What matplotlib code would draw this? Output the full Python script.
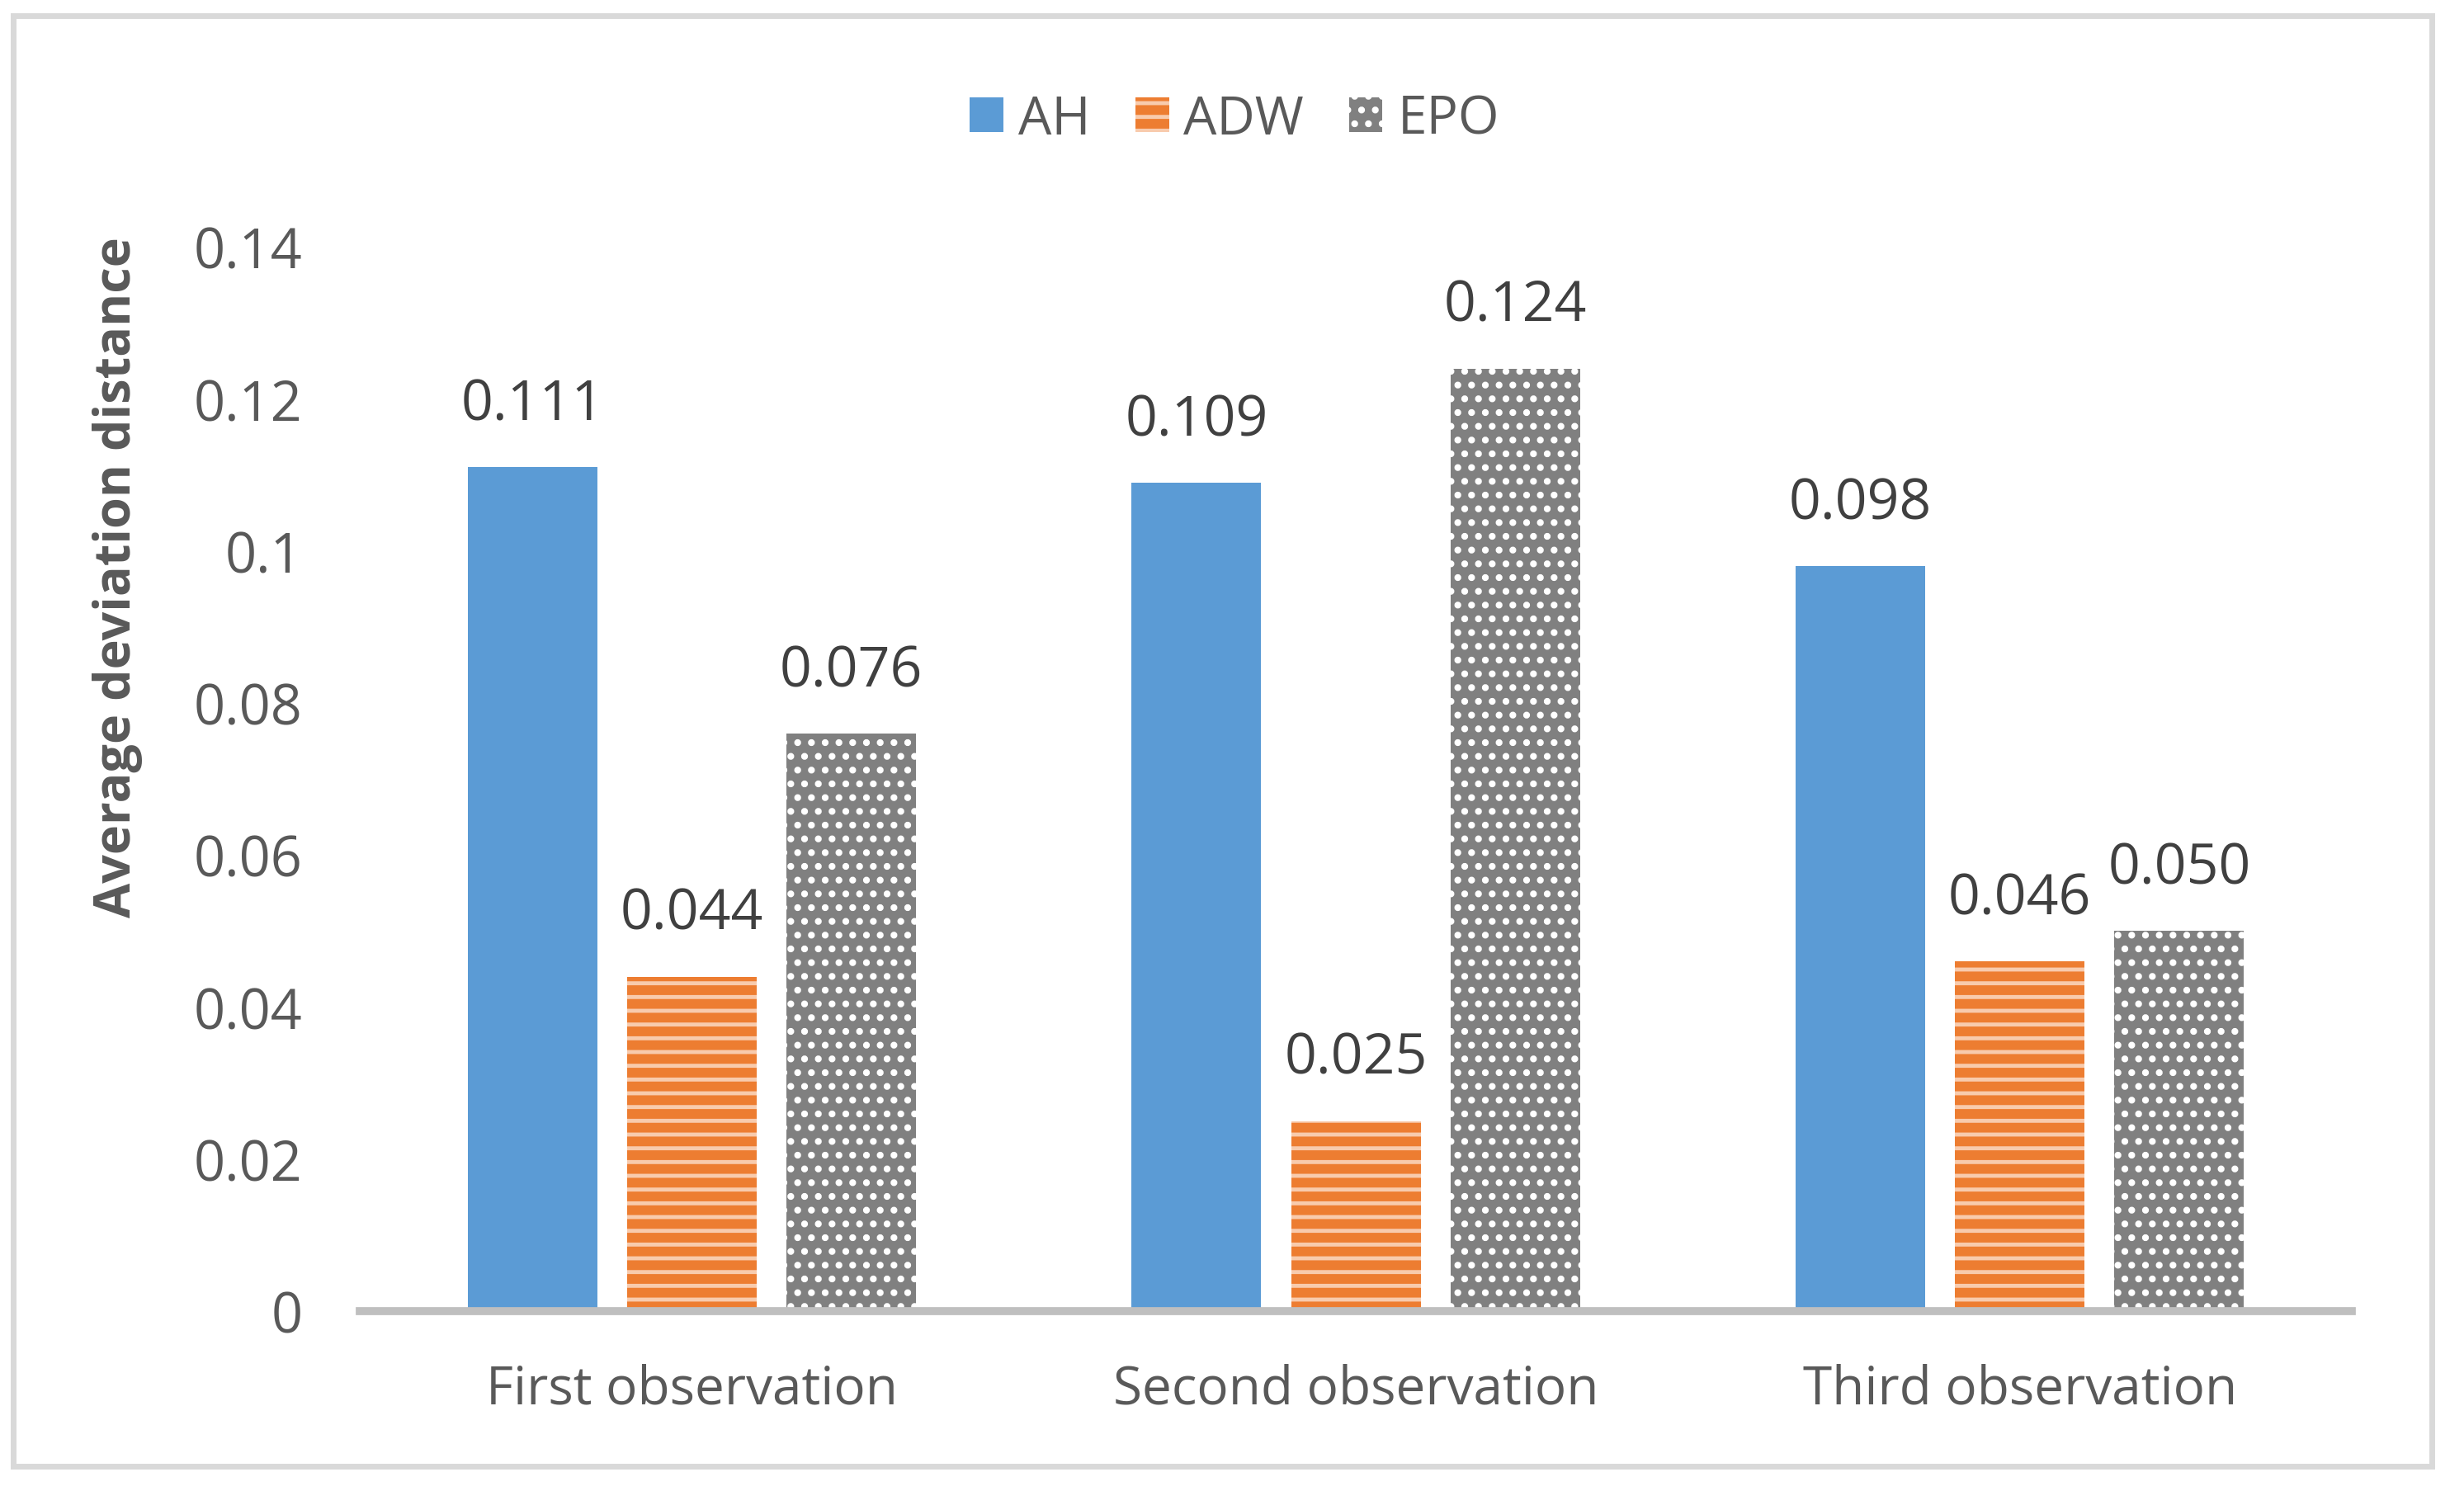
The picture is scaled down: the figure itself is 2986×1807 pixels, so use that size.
import matplotlib
matplotlib.use("Agg")
import matplotlib.pyplot as plt
from matplotlib.patches import Rectangle
import numpy as np

categories = ["First observation", "Second observation", "Third observation"]
series_names = ["AH", "ADW", "EPO"]
ah = [0.111, 0.109, 0.098]
adw = [0.044, 0.025, 0.046]
epo = [0.076, 0.124, 0.050]
label_texts = [["0.111", "0.109", "0.098"], ["0.044", "0.025", "0.046"], ["0.076", "0.124", "0.050"]]
yticks = [0, 0.02, 0.04, 0.06, 0.08, 0.1, 0.12, 0.14]
ytick_labels = ["0", "0.02", "0.04", "0.06", "0.08", "0.1", "0.12", "0.14"]

plt.rcParams['font.family'] = ['Open Sans', 'DejaVu Sans']
plt.rcParams['hatch.linewidth'] = 3.5

fig = plt.figure(figsize=(29.86, 18.08), dpi=100)
ax = fig.add_axes([0.146, 0.1206, 0.8085, 0.7134])

x = np.arange(len(categories))
w = 0.195
step = 0.24
styles = [
    dict(color="#5b9bd5", hatch=None, edge="#5b9bd5"),
    dict(color="#ed7d31", hatch="-", edge="#f8cbad"),
    dict(color="#808080", hatch=".", edge="#ffffff"),
]
data = [ah, adw, epo]
for i, (vals, st) in enumerate(zip(data, styles)):
    bars = ax.bar(x + (i - 1) * step, vals, width=w, color=st["color"],
                  hatch=st["hatch"], edgecolor=st["edge"], linewidth=0,
                  label=series_names[i], zorder=2)
    for b, t in zip(bars, label_texts[i]):
        ax.annotate(t, (b.get_x() + b.get_width() / 2, b.get_height()),
                    xytext=(0, 30), textcoords="offset points",
                    ha="center", va="bottom", fontsize=49, color="#404040")

ax.set_xlim(-0.5, 2.5)
ax.set_ylim(0, 0.14)
ax.set_yticks(yticks)
ax.set_yticklabels(ytick_labels)
ax.set_xticks(x)
ax.set_xticklabels(categories)
ax.tick_params(axis="both", length=0, labelcolor="#595959")
ax.tick_params(axis="y", pad=50, labelsize=48)
ax.tick_params(axis="x", pad=45, labelsize=46)
for s in ["top", "right", "left"]:
    ax.spines[s].set_visible(False)
ax.spines["bottom"].set_color("#bfbfbf")
ax.spines["bottom"].set_linewidth(7)
ax.spines["bottom"].set_zorder(3)

fig.text(143 / 2986, 1 - 700 / 1808, "Average deviation distance", rotation=90,
         ha="center", va="center", fontsize=44, fontweight="bold", color="#595959")

leg = fig.legend(loc="center", bbox_to_anchor=(0.501, 0.9195), ncol=3, frameon=False,
                 fontsize=46, handlelength=0.64, handleheight=0.64,
                 handletextpad=0.28, columnspacing=0.85, labelcolor="#595959")

fig.patches.append(Rectangle((16 / 2986, 30 / 1808), (2947 - 16) / 2986, (1788 - 30) / 1808,
                             transform=fig.transFigure, fill=False,
                             edgecolor="#d9d9d9", linewidth=5))

fig.savefig("out.png", dpi=100)
